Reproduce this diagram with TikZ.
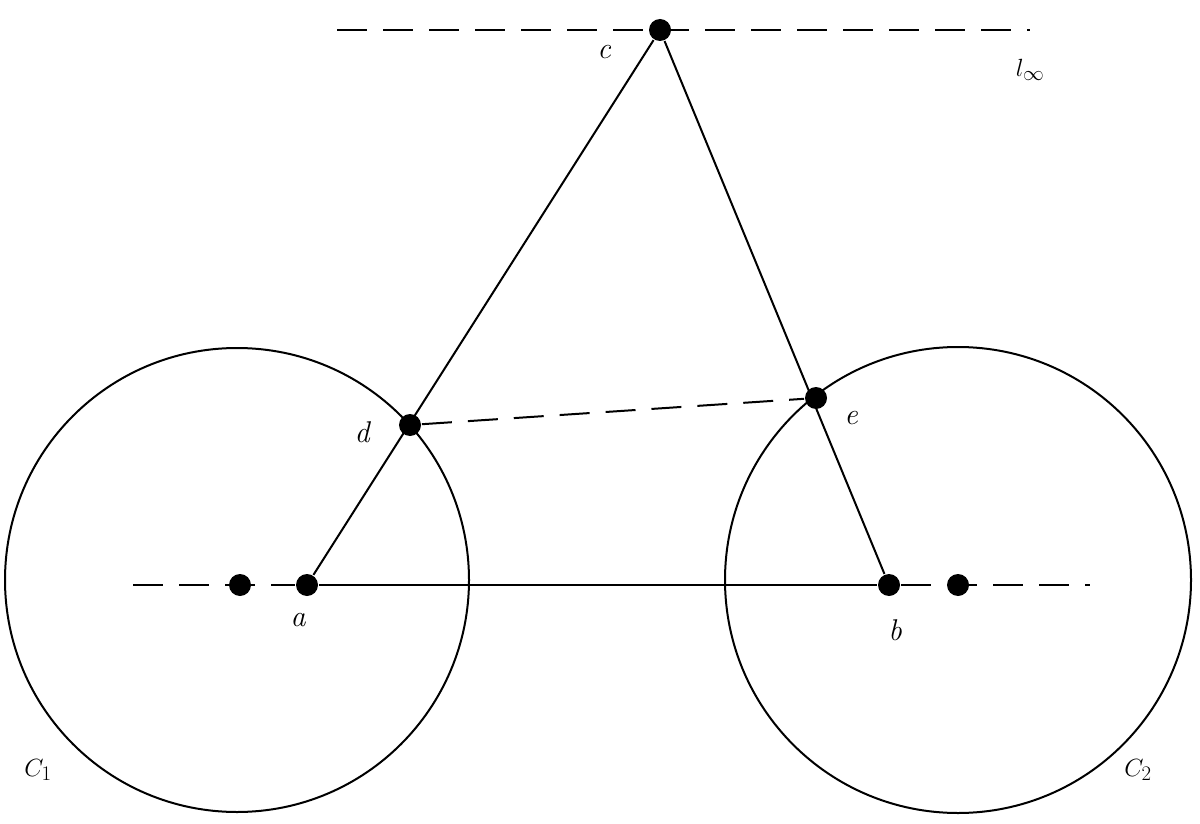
\documentclass[tikz,border=0pt]{standalone}
\begin{document}
\begin{tikzpicture}[x=1pt,y=-1pt,line width=2pt,
  dot/.style={circle,fill=black,inner sep=0pt,minimum size=22pt},
  lbl/.style={font=\fontsize{30}{30}\selectfont\itshape},
  dsh/.style={dash pattern=on 30pt off 16pt}]
\useasboundingbox (0,0) rectangle (1200,824);
\node[dot] (c) at (660,30) {};
\node[dot] (d) at (410,425) {};
\node[dot] (e) at (816,398) {};
\node[dot] (a) at (307,585) {};
\node[dot] (f1) at (240,585) {};
\node[dot] (b) at (889,585) {};
\node[dot] (f2) at (958,585) {};
\coordinate (t1) at (337,30); \coordinate (t2) at (1030,30);
\coordinate (h1) at (133,585); \coordinate (h2) at (1090,585);
\draw (237,580) circle (232);
\draw (958,580) circle (233);
\draw[dsh] (t1) -- (t2);
\draw[dsh] (h1) -- (a);
\draw[dsh] (b) -- (h2);
\draw (a) -- (b);
\draw (a) -- (c) -- (b);
\draw[dsh] (d) -- (e);
\node[lbl] at (604,52) {c};
\node[lbl] at (1030,70) {$l_\infty$};
\node[lbl] at (362,432) {d};
\node[lbl] at (851,418) {e};
\node[lbl] at (298,620) {a};
\node[lbl] at (895,630) {b};
\node[lbl] at (38,770) {$C_1$};
\node[lbl] at (1138,770) {$C_2$};
\end{tikzpicture}
\end{document}
